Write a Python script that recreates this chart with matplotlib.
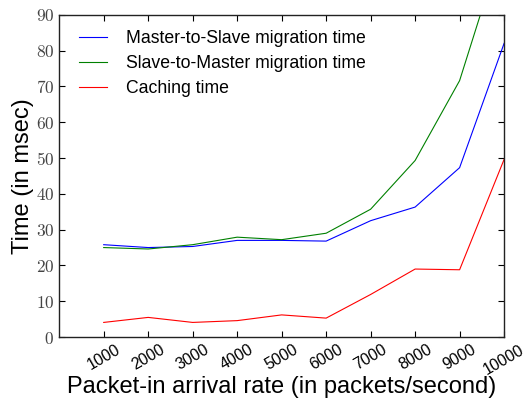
import matplotlib
matplotlib.use('Agg')
import matplotlib.pyplot as plt
import numpy as np

plt.rcParams['font.family'] = 'Liberation Sans'
plt.rcParams['mathtext.fontset'] = 'cm'

# packet-in arrival rate (packets/second)
rates = [1000, 2000, 3000, 4000, 5000, 6000, 7000, 8000, 9000, 10000]

# times in msec
master_to_slave = [25.8, 25.0, 25.3, 27.0, 27.0, 26.8, 32.5, 36.3, 47.3, 82.0]
slave_to_master = [25.0, 24.6, 25.8, 27.9, 27.2, 29.0, 35.7, 49.3, 71.6, 111.0]
caching = [4.1, 5.5, 4.1, 4.6, 6.2, 5.3, 11.9, 19.0, 18.8, 49.6]

yticks = [0, 10, 20, 30, 40, 50, 60, 70, 80, 90]

fig = plt.figure(figsize=(5.24, 3.98), dpi=100)
ax = fig.add_axes([0.113, 0.153, 0.849, 0.81])

ax.plot(rates, master_to_slave, color='b', lw=0.8, label='Master-to-Slave migration time')
ax.plot(rates, slave_to_master, color='g', lw=0.8, label='Slave-to-Master migration time')
ax.plot(rates, caching, color='r', lw=0.8, label='Caching time')

ax.set_xlim(0, 10000)
ax.set_ylim(0, 90)
ax.set_xticks(rates)
ax.set_xticklabels([str(r) for r in rates], rotation=30, fontsize=11.5)
ax.set_yticks(yticks)
ax.set_yticklabels(['$%d$' % v for v in yticks], fontsize=12.5, color='#444444')

ax.tick_params(direction='in', top=True, right=True, length=4, width=0.8)
for sp in ax.spines.values():
    sp.set_linewidth(1.0)
    sp.set_color('#222222')

ax.set_xlabel('Packet-in arrival rate (in packets/second)', fontsize=17, labelpad=-1)
ax.set_ylabel('Time (in msec)', fontsize=17, labelpad=1)

# legend placed slightly higher than default upper-left
ax.legend(loc='upper left', bbox_to_anchor=(0.0, 1.012), frameon=False, fontsize=12.7,
          handlelength=1.6, handletextpad=1.1, labelspacing=0.45, borderaxespad=0.7)

fig.savefig('out.png', dpi=100)
